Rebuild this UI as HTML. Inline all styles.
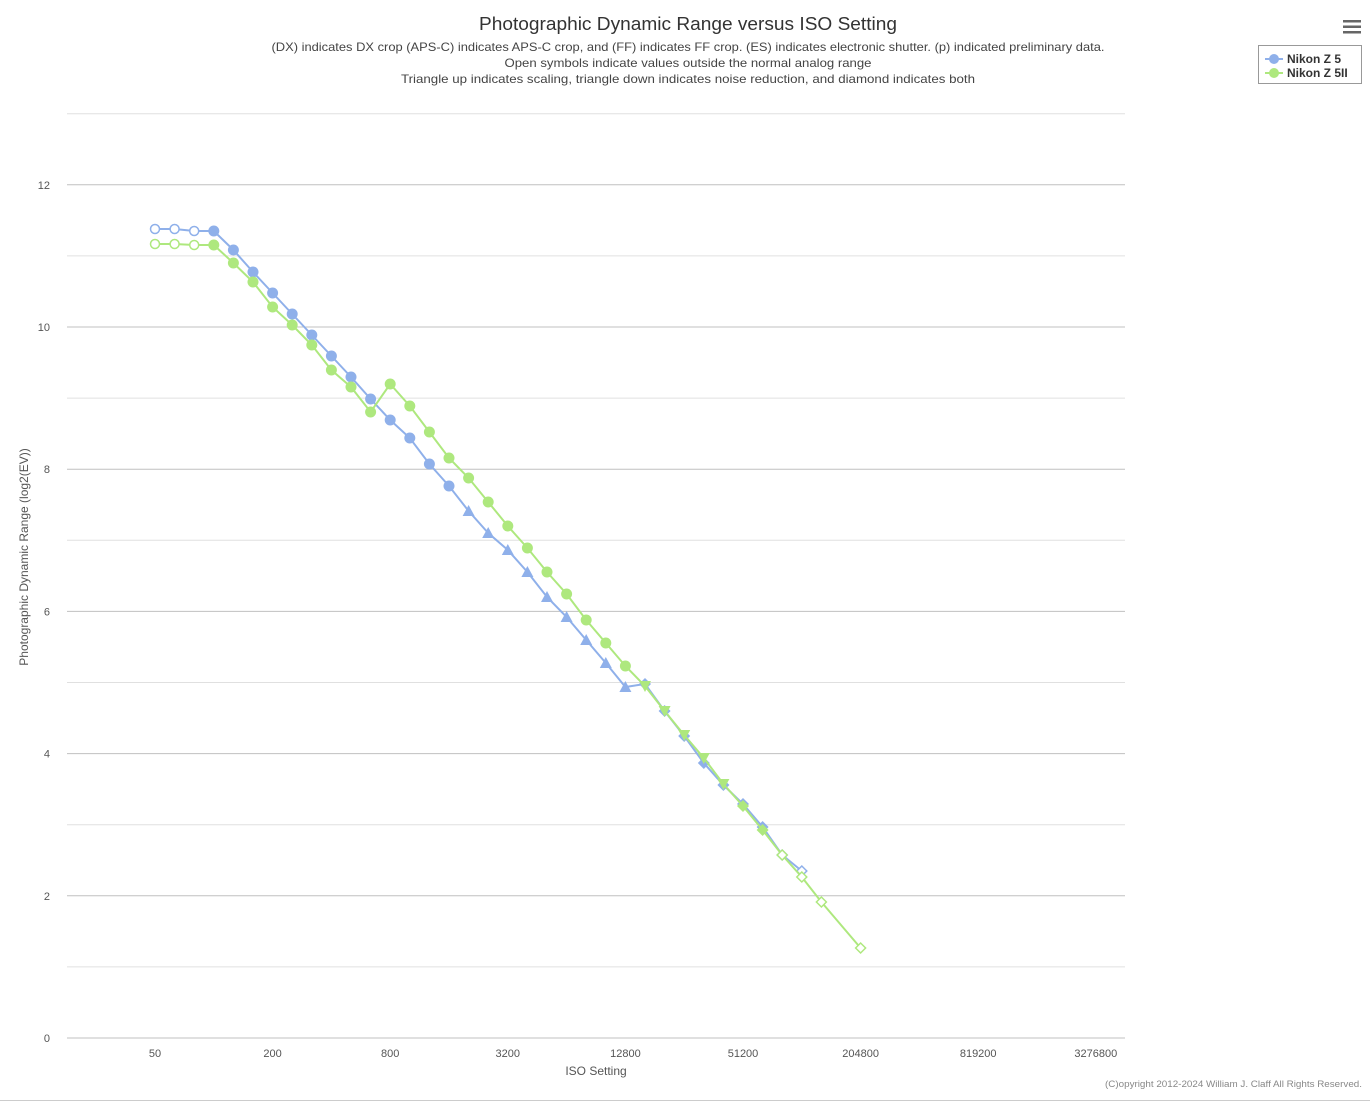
<!DOCTYPE html>
<html><head><meta charset="utf-8"><style>
body{margin:0;background:#fff;font-family:"Liberation Sans","DejaVu Sans",sans-serif;}
svg{display:block}
</style></head><body>
<svg id="s" width="1370" height="1103" xmlns="http://www.w3.org/2000/svg">
<text x="688" y="30" text-anchor="middle" font-size="18" fill="#333" textLength="418" lengthAdjust="spacingAndGlyphs">Photographic Dynamic Range versus ISO Setting</text>
<text x="688" y="51" text-anchor="middle" font-size="12" fill="#444" textLength="833" lengthAdjust="spacingAndGlyphs">(DX) indicates DX crop (APS-C) indicates APS-C crop, and (FF) indicates FF crop. (ES) indicates electronic shutter. (p) indicated preliminary data.</text>
<text x="688" y="67" text-anchor="middle" font-size="12" fill="#444" textLength="367" lengthAdjust="spacingAndGlyphs">Open symbols indicate values outside the normal analog range</text>
<text x="688" y="83" text-anchor="middle" font-size="12" fill="#444" textLength="574" lengthAdjust="spacingAndGlyphs">Triangle up indicates scaling, triangle down indicates noise reduction, and diamond indicates both</text>
<g fill="#666"><rect x="1343" y="20" width="18" height="2.5"/><rect x="1343" y="25.5" width="18" height="2.5"/><rect x="1343" y="31" width="18" height="2.5"/></g>
<rect x="1258.5" y="45.5" width="103" height="38" fill="#fff" stroke="#999"/>
<line x1="1265" y1="59" x2="1283" y2="59" stroke="#8fb0ea" stroke-width="2"/><circle cx="1274" cy="59" r="5" fill="#8fb0ea"/>
<line x1="1265" y1="73" x2="1283" y2="73" stroke="#aee87e" stroke-width="2"/><circle cx="1274" cy="73" r="5" fill="#aee87e"/>
<text x="1287" y="63" font-size="12" font-weight="bold" fill="#333">Nikon Z 5</text>
<text x="1287" y="77" font-size="12" font-weight="bold" fill="#333">Nikon Z 5II</text>
<text x="596" y="1075" text-anchor="middle" font-size="12" fill="#555">ISO Setting</text>
<text transform="translate(28,557) rotate(-90)" text-anchor="middle" font-size="12" fill="#555">Photographic Dynamic Range (log2(EV))</text>
<text x="1362" y="1087" text-anchor="end" font-size="9" fill="#888" textLength="257" lengthAdjust="spacingAndGlyphs">(C)opyright 2012-2024 William J. Claff All Rights Reserved.</text>
<line x1="0" y1="1100.5" x2="1370" y2="1100.5" stroke="#ccc"/>
<g id="g"></g>
</svg>
<script>
const g=document.getElementById('g');let h='';
const Y=v=>1038-v*71.1;
for(let v=0;v<=13;v++){const y=Y(v).toFixed(1);h+=`<line x1="67" x2="1125" y1="${y}" y2="${y}" stroke="${v%2?'#e0e0e0':'#c0c0c0'}" stroke-width="1"/>`;if(v%2==0&&v<13)h+=`<text x="50" y="${+y+4}" text-anchor="end" font-size="11" fill="#555">${v}</text>`;}
const xl=['50','200','800','3200','12800','51200','204800','819200','3276800'];
xl.forEach((t,i)=>{const x=155+i*117.6;h+=`<text x="${x}" y="1057" text-anchor="middle" font-size="11" fill="#555">${t}</text>`;});
function X(i){return 155+i*19.6;}
function mk(x,y,t,c){
 if(t=='o')return `<circle cx="${x}" cy="${y}" r="4.5" fill="#fff" stroke="${c}" stroke-width="1.5"/>`;
 if(t=='c')return `<circle cx="${x}" cy="${y}" r="5.5" fill="${c}"/>`;
 if(t=='u')return `<path d="M${x} ${y-6}L${x+6} ${y+5}L${x-6} ${y+5}Z" fill="${c}"/>`;
 if(t=='d')return `<path d="M${x} ${y+6}L${x+6} ${y-5}L${x-6} ${y-5}Z" fill="${c}"/>`;
 if(t=='D')return `<path d="M${x} ${y-6}L${x+6} ${y}L${x} ${y+6}L${x-6} ${y}Z" fill="${c}"/>`;
 if(t=='O')return `<path d="M${x} ${y-5}L${x+5} ${y}L${x} ${y+5}L${x-5} ${y}Z" fill="#fff" stroke="${c}" stroke-width="1.5"/>`;
}
function ser(pts,c){let p=pts.map(a=>X(a[0])+','+a[1]).join(' ');let s=`<polyline points="${p}" fill="none" stroke="${c}" stroke-width="2"/>`;pts.forEach(a=>s+=mk(X(a[0]),a[1],a[2],c));return s;}
const b=[[0,229,'o'],[1,229,'o'],[2,231,'o'],[3,231,'c'],[4,250,'c'],[5,272,'c'],[6,293,'c'],[7,314,'c'],[8,335,'c'],[9,356,'c'],[10,377,'c'],[11,399,'c'],[12,420,'c'],[13,438,'c'],[14,464,'c'],[15,486,'c'],[16,511,'u'],[17,533,'u'],[18,550,'u'],[19,572,'u'],[20,597,'u'],[21,617,'u'],[22,640,'u'],[23,663,'u'],[24,687,'u'],[25,684,'D'],[26,711,'D'],[27,736,'D'],[28,763,'D'],[29,785,'D'],[30,804,'D'],[31,827,'D'],[32,855,'O'],[33,871,'O']];
const gr=[[0,244,'o'],[1,244,'o'],[2,245,'o'],[3,245,'c'],[4,263,'c'],[5,282,'c'],[6,307,'c'],[7,325,'c'],[8,345,'c'],[9,370,'c'],[10,387,'c'],[11,412,'c'],[12,384,'c'],[13,406,'c'],[14,432,'c'],[15,458,'c'],[16,478,'c'],[17,502,'c'],[18,526,'c'],[19,548,'c'],[20,572,'c'],[21,594,'c'],[22,620,'c'],[23,643,'c'],[24,666,'c'],[25,686,'d'],[26,711,'d'],[27,735,'d'],[28,758,'d'],[29,784,'d'],[30,806,'D'],[31,830,'D'],[32,855,'O'],[33,877,'O'],[34,902,'O'],[36,948,'O']];
h+=ser(b,'#8fb0ea')+ser(gr,'#aee87e');
g.innerHTML=h;
</script>
</body></html>
